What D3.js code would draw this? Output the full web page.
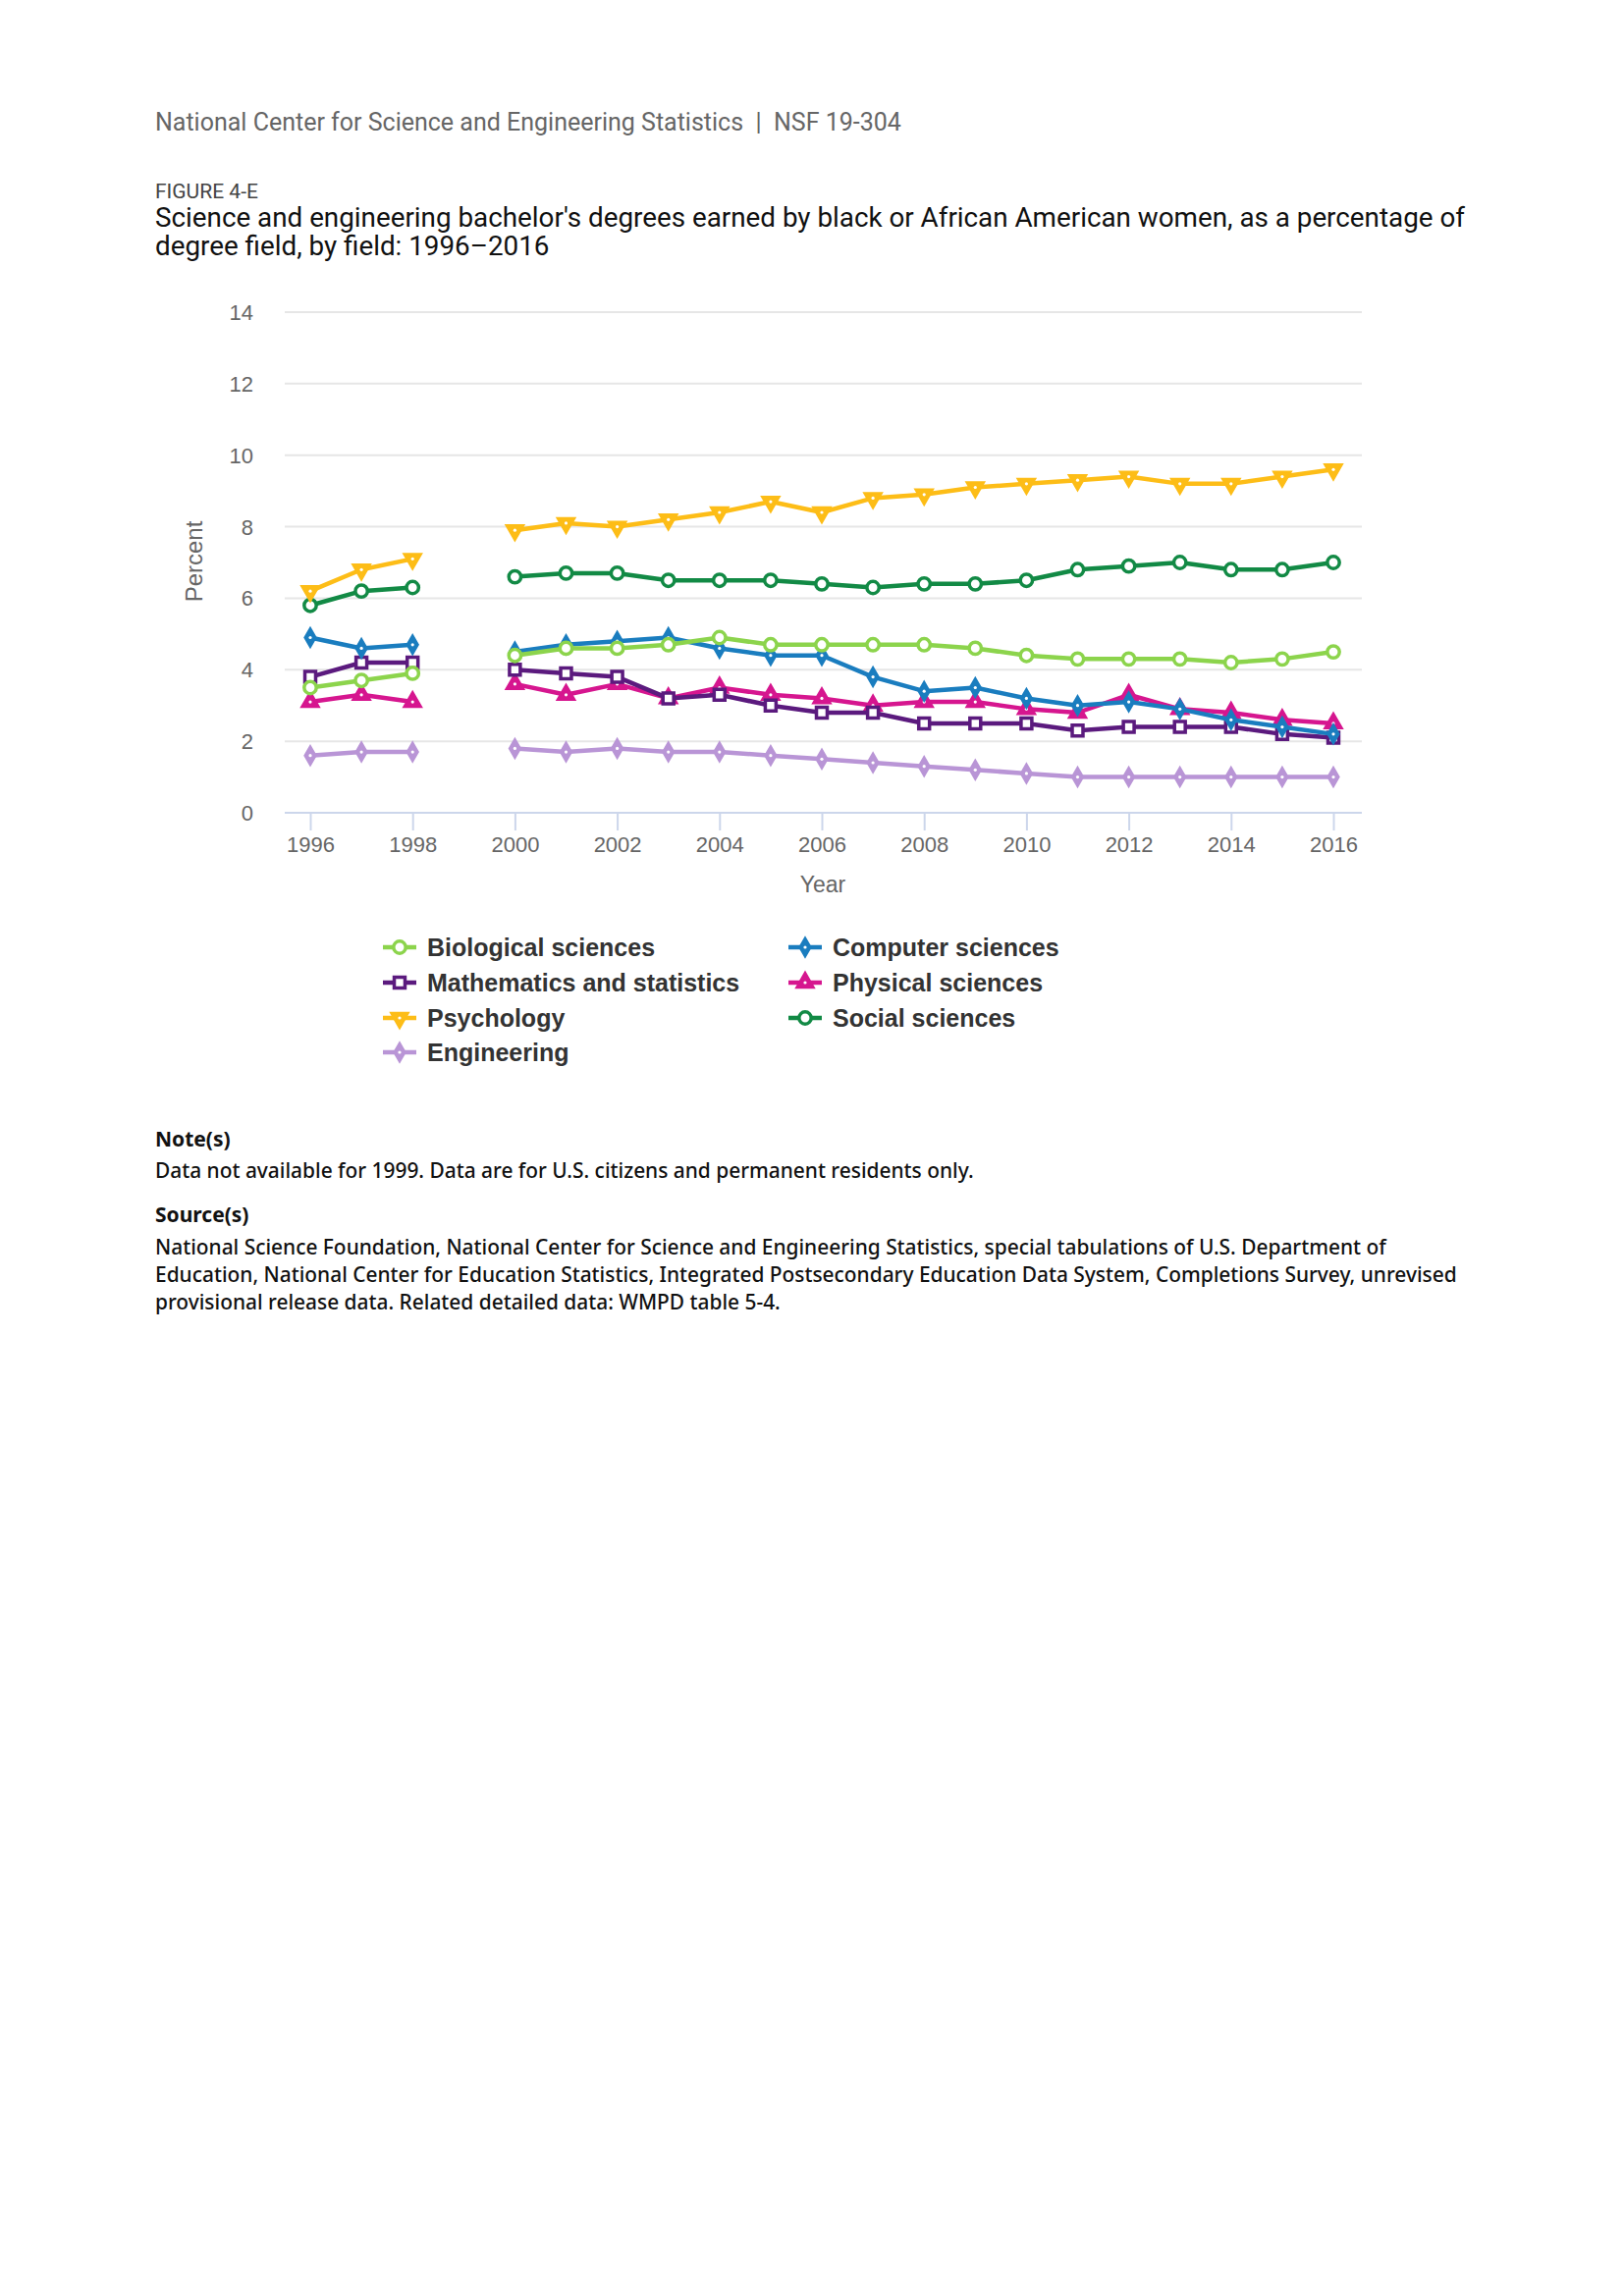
<!DOCTYPE html>
<html>
<head>
<meta charset="utf-8">
<script src="https://cdn.jsdelivr.net/npm/d3@7"></script>
<style>
  body { margin: 0; background: #fff; }
  svg { display: block; }
</style>
</head>
<body>
<svg id="chart" width="1654" height="2339"></svg>
<script>
// years (1999 not available)
const years = [1996, 1997, 1998, 1999, 2000, 2001, 2002, 2003, 2004, 2005, 2006, 2007, 2008, 2009, 2010, 2011, 2012, 2013, 2014, 2015, 2016];

const biological  = [3.5, 3.7, 3.9, null, 4.4, 4.6, 4.6, 4.7, 4.9, 4.7, 4.7, 4.7, 4.7, 4.6, 4.4, 4.3, 4.3, 4.3, 4.2, 4.3, 4.5];
const computer    = [4.9, 4.6, 4.7, null, 4.5, 4.7, 4.8, 4.9, 4.6, 4.4, 4.4, 3.8, 3.4, 3.5, 3.2, 3.0, 3.1, 2.9, 2.6, 2.4, 2.2];
const mathStats   = [3.8, 4.2, 4.2, null, 4.0, 3.9, 3.8, 3.2, 3.3, 3.0, 2.8, 2.8, 2.5, 2.5, 2.5, 2.3, 2.4, 2.4, 2.4, 2.2, 2.1];
const physical    = [3.1, 3.3, 3.1, null, 3.6, 3.3, 3.6, 3.2, 3.5, 3.3, 3.2, 3.0, 3.1, 3.1, 2.9, 2.8, 3.3, 2.9, 2.8, 2.6, 2.5];
const psychology  = [6.2, 6.8, 7.1, null, 7.9, 8.1, 8.0, 8.2, 8.4, 8.7, 8.4, 8.8, 8.9, 9.1, 9.2, 9.3, 9.4, 9.2, 9.2, 9.4, 9.6];
const social      = [5.8, 6.2, 6.3, null, 6.6, 6.7, 6.7, 6.5, 6.5, 6.5, 6.4, 6.3, 6.4, 6.4, 6.5, 6.8, 6.9, 7.0, 6.8, 6.8, 7.0];
const engineering = [1.6, 1.7, 1.7, null, 1.8, 1.7, 1.8, 1.7, 1.7, 1.6, 1.5, 1.4, 1.3, 1.2, 1.1, 1.0, 1.0, 1.0, 1.0, 1.0, 1.0];

const yTicks = [0, 2, 4, 6, 8, 10, 12, 14];
const xTicks = [1996, 1998, 2000, 2002, 2004, 2006, 2008, 2010, 2012, 2014, 2016];

const series = [
  { name: "Biological sciences", values: biological, color: "#8cd44c", symbol: "circle" },
  { name: "Computer sciences", values: computer, color: "#1a7dbf", symbol: "diamond" },
  { name: "Mathematics and statistics", values: mathStats, color: "#5b1a7e", symbol: "square" },
  { name: "Physical sciences", values: physical, color: "#d6168f", symbol: "triangle" },
  { name: "Psychology", values: psychology, color: "#fdbd17", symbol: "triangle-down" },
  { name: "Social sciences", values: social, color: "#128a45", symbol: "circle" },
  { name: "Engineering", values: engineering, color: "#b995d6", symbol: "diamond" }
];

const svg = d3.select("#chart");

// header texts
svg.append("text")
  .attr("x", 158).attr("y", 133)
  .attr("font-family", "Roboto").attr("font-size", 25).attr("fill", "#666")
  .attr("xml:space", "preserve")
  .text("National Center for Science and Engineering Statistics  |  NSF 19-304");

svg.append("text")
  .attr("x", 158).attr("y", 202)
  .attr("font-family", "Roboto").attr("font-size", 21).attr("fill", "#444")
  .text("FIGURE 4-E");

const titleLines = [
  "Science and engineering bachelor's degrees earned by black or African American women, as a percentage of",
  "degree field, by field: 1996\u20132016"
];
svg.append("g").selectAll("text").data(titleLines).join("text")
  .attr("x", 158).attr("y", (d, i) => 231 + i * 29)
  .attr("font-family", "Roboto").attr("font-size", 27.8).attr("fill", "#111")
  .text(d => d);

// scales
const x = d3.scaleLinear().domain([1996, 2016]).range([316, 1358]);
const y = d3.scaleLinear().domain([0, 14]).range([828, 318]);
const plotLeft = 290, plotRight = 1387;

const chart = svg.append("g").attr("font-family", "Liberation Sans, Arial, sans-serif");

// gridlines
chart.append("g").selectAll("line").data(yTicks.filter(t => t > 0)).join("line")
  .attr("x1", plotLeft).attr("x2", plotRight)
  .attr("y1", d => y(d)).attr("y2", d => y(d))
  .attr("stroke", "#e6e6e6").attr("stroke-width", 2);

// y axis labels
chart.append("g").selectAll("text").data(yTicks).join("text")
  .attr("x", 258).attr("y", d => y(d) + 8)
  .attr("text-anchor", "end").attr("font-size", 22).attr("fill", "#666")
  .text(d => d);

// x axis
const xAxis = d3.axisBottom(x).tickValues(xTicks).tickFormat(d3.format("d")).tickSize(18);
const xg = chart.append("g").attr("transform", `translate(0,${y(0)})`).call(xAxis);
xg.select(".domain").remove();
xg.selectAll(".tick line").attr("stroke", "#ccd6eb").attr("stroke-width", 2);
xg.selectAll(".tick text").attr("font-size", 22).attr("fill", "#666")
  .attr("font-family", "Liberation Sans, Arial, sans-serif").attr("y", 24).attr("dy", "0.71em");
chart.append("line")
  .attr("x1", plotLeft).attr("x2", plotRight)
  .attr("y1", y(0)).attr("y2", y(0))
  .attr("stroke", "#ccd6eb").attr("stroke-width", 2);

// axis titles
chart.append("text")
  .attr("transform", "translate(206,572) rotate(-90)")
  .attr("text-anchor", "middle").attr("font-size", 24).attr("fill", "#666")
  .text("Percent");
chart.append("text")
  .attr("x", 838).attr("y", 909)
  .attr("text-anchor", "middle").attr("font-size", 23).attr("fill", "#666")
  .text("Year");

// symbol helper
function symbolPath(kind) {
  const types = {
    "circle": d3.symbolCircle,
    "square": d3.symbolSquare,
    "diamond": d3.symbolDiamond,
    "triangle": d3.symbolTriangle,
    "triangle-down": d3.symbolTriangle
  };
  const size = { "circle": 120, "square": 120, "diamond": 110, "triangle": 140, "triangle-down": 140 };
  return d3.symbol().type(types[kind]).size(size[kind])();
}

function drawMarker(g, s, cx, cy) {
  const hollow = s.symbol === "circle" || s.symbol === "square";
  const rot = s.symbol === "triangle-down" ? " rotate(180)" : "";
  g.append("path")
    .attr("d", symbolPath(s.symbol))
    .attr("transform", `translate(${cx},${cy})${rot}`)
    .attr("fill", hollow ? "#fff" : s.color)
    .attr("stroke", s.color)
    .attr("stroke-width", hollow ? 3.5 : 2);
  if (!hollow) {
    g.append("circle").attr("cx", cx).attr("cy", cy).attr("r", 1.6).attr("fill", "#fff");
  }
}

const line = d3.line()
  .defined(d => d.v != null)
  .x(d => x(d.year))
  .y(d => y(d.v));

// draw series (last drawn on top)
const drawOrder = [6, 5, 4, 3, 2, 1, 0];
drawOrder.forEach(i => {
  const s = series[i];
  const pts = years.map((yr, j) => ({ year: yr, v: s.values[j] }));
  const g = chart.append("g");
  g.append("path")
    .datum(pts)
    .attr("d", line)
    .attr("fill", "none")
    .attr("stroke", s.color)
    .attr("stroke-width", 4.5)
    .attr("stroke-linejoin", "round");
  pts.filter(p => p.v != null).forEach(p => drawMarker(g, s, x(p.year), y(p.v)));
});

// legend
const legendRows = [965, 1001, 1037, 1072];
const legendCols = [390, 803];
const legend = chart.append("g");
series.forEach((s, i) => {
  const col = i === 6 ? 0 : i % 2;
  const row = i === 6 ? 3 : Math.floor(i / 2);
  const lx = legendCols[col], ly = legendRows[row];
  const g = legend.append("g");
  g.append("line")
    .attr("x1", lx).attr("x2", lx + 34)
    .attr("y1", ly).attr("y2", ly)
    .attr("stroke", s.color).attr("stroke-width", 4.5);
  drawMarker(g, s, lx + 17, ly);
  g.append("text")
    .attr("x", lx + 45).attr("y", ly + 9)
    .attr("font-size", 25).attr("font-weight", "bold").attr("fill", "#333")
    .text(s.name);
});

// notes and sources
const notes = svg.append("g").attr("font-family", "Noto Sans, Roboto, sans-serif").attr("fill", "#111");
notes.append("text").attr("x", 158).attr("y", 1168).attr("font-size", 21).attr("font-weight", "bold").text("Note(s)");
notes.append("text").attr("x", 158).attr("y", 1200).attr("font-size", 20.9).attr("font-weight", 500)
  .text("Data not available for 1999. Data are for U.S. citizens and permanent residents only.");
notes.append("text").attr("x", 158).attr("y", 1245).attr("font-size", 21).attr("font-weight", "bold").text("Source(s)");
const sourceLines = [
  "National Science Foundation, National Center for Science and Engineering Statistics, special tabulations of U.S. Department of",
  "Education, National Center for Education Statistics, Integrated Postsecondary Education Data System, Completions Survey, unrevised",
  "provisional release data. Related detailed data: WMPD table 5-4."
];
notes.append("g").selectAll("text").data(sourceLines).join("text")
  .attr("x", 158).attr("y", (d, i) => 1278 + i * 27.8)
  .attr("font-size", 20.9).attr("font-weight", 500)
  .text(d => d);
</script>
</body>
</html>
